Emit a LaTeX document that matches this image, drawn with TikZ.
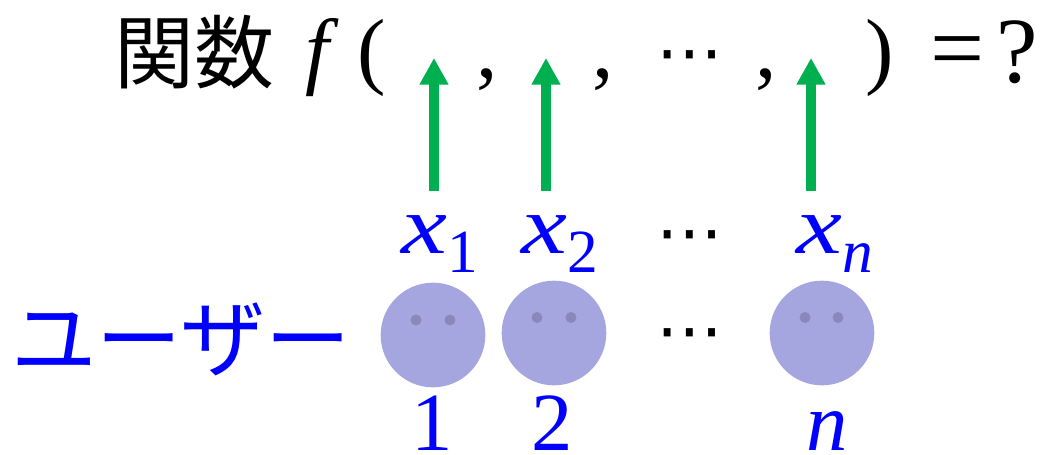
\documentclass[tikz,border=0pt]{standalone}
\usepackage{fontspec}
\usepackage{graphicx}
\usetikzlibrary{arrows.meta}
\setmainfont{Liberation Serif}
\newfontfamily\cjk{Noto Sans CJK JP}
\newfontfamily\dvs{DejaVu Sans}
\newcommand{\wx}{\scalebox{1.25}[1]{\textit{x}}}
\newcommand{\subd}[1]{\raisebox{-14pt}{\fontsize{46}{46}\selectfont #1}}
\definecolor{ublue}{RGB}{0,0,255}
\definecolor{face}{RGB}{165,165,224}
\definecolor{eye}{RGB}{136,136,186}
\definecolor{agreen}{RGB}{0,176,80}
\tikzset{
 lab/.style={inner sep=0pt,outer sep=0pt,anchor=center},
 blk/.style={lab,text=black,font=\fontsize{64}{64}\selectfont},
 dotsn/.style={lab,text=black,font=\dvs\fontsize{50}{50}\selectfont},
 blu/.style={lab,text=ublue,font=\fontsize{62}{62}\selectfont},
 usr/.style={circle,fill=face,minimum size=78.5pt,inner sep=0pt},
 eyedot/.style={circle,fill=eye,minimum size=8.2pt,inner sep=0pt},
 arr/.style={line width=7pt,agreen,-{Triangle[length=20pt,width=20.5pt]}}
}
\begin{document}
\begin{tikzpicture}[x=0.75pt,y=-0.75pt]
\useasboundingbox (0,0) rectangle (1054,454);
\node[blk,font=\cjk\fontsize{60}{60}\selectfont] (kansu) at (194,52) {関数};
\node[blk] (f) at (322,58) {\textit{f}};
\node[blk] (lp) at (372,58) {(};
\node[blk] (c1) at (487,80) {,};
\node[blk] (c2) at (603,80) {,};
\node[dotsn] (d0) at (690,63) {⋯};
\node[blk] (c3) at (766,80) {,};
\node[blk] (rp) at (880,58) {)};
\node[blk,font=\fontsize{72}{72}\selectfont] (eq) at (958,59) {=};
\node[blk,font=\fontsize{70}{70}\selectfont] (q) at (1017,52) {?};
\coordinate (a1t) at (434,58); \coordinate (a1b) at (434,191);
\coordinate (a2t) at (546,58); \coordinate (a2b) at (546,191);
\coordinate (a3t) at (811,58); \coordinate (a3b) at (811,191);
\draw[arr] (a1b) -- (a1t);
\draw[arr] (a2b) -- (a2t);
\draw[arr] (a3b) -- (a3t);
\node[blu] (x1) at (440,244) {\wx\subd{1}};
\node[blu] (x2) at (560,244) {\wx\subd{2}};
\node[blu] (xn) at (835,244) {\wx\subd{\textit{n}}};
\node[dotsn] (d1) at (690,243) {⋯};
\node[dotsn] (d2) at (690,341) {⋯};
\node[blu,font=\cjk\fontsize{64}{64}\selectfont] (user) at (181,339) {ユーザー};
\node[usr] (u1) at (433,335) {};
\node[usr] (u2) at (554,333) {};
\node[usr] (u3) at (822,333) {};
\node[eyedot] (u1l) at (416,320) {};
\node[eyedot] (u1r) at (450,320) {};
\node[eyedot] (u2l) at (537,317.5) {};
\node[eyedot] (u2r) at (571,317.5) {};
\node[eyedot] (u3l) at (805,317.5) {};
\node[eyedot] (u3r) at (838,317.5) {};
\node[blu] (n1) at (432,423) {1};
\node[blu] (n2) at (552,423) {2};
\node[blu] (nn) at (827,431) {\textit{n}};
\end{tikzpicture}
\end{document}
